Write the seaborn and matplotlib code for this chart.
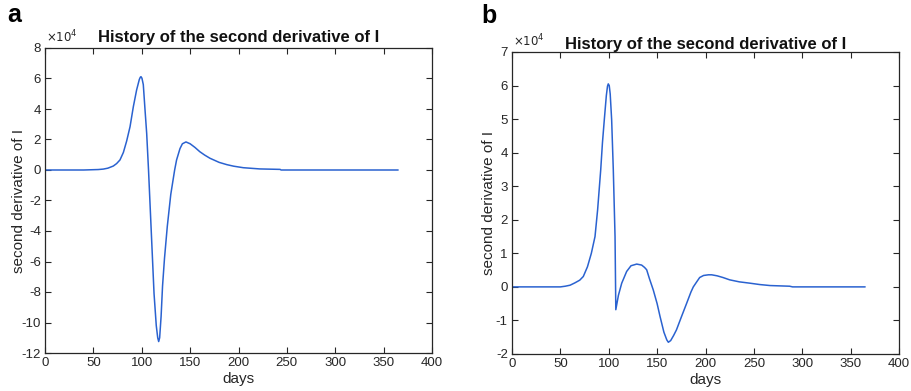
import matplotlib
matplotlib.use("Agg")
import matplotlib.pyplot as plt
import seaborn as sns
import pandas as pd

# Panel a: days and second derivative of I (units of 1e4)
days_a = [0, 20, 40, 50, 55, 60.3, 65, 70.6, 74, 77.5, 81, 84.4, 87.9, 91.3, 94.7, 97.5, 98.5, 99.2,
          100.2, 101.6, 103.4, 105.1, 107, 109.6, 112.7, 115, 116.5, 117.5, 118.5, 120, 121.5,
          123.5, 126.4, 130, 134, 136, 139.5, 142, 145.7, 150, 155, 160, 165, 170.5,
          180, 188, 195, 205, 222, 243, 244, 300, 365]
vals_a = [0, 0, 0.0, 0.02, 0.03, 0.06, 0.12, 0.26, 0.42, 0.66, 1.15, 1.9, 2.84, 4.15, 5.25, 5.94, 6.08, 6.12,
          6.02, 5.6, 3.93, 2.4, 0.0, -3.7, -8.1, -10.2, -11.0, -11.25, -11.0, -9.6, -7.6,
          -5.8, -3.7, -1.6, 0.0, 0.66, 1.4, 1.72, 1.84, 1.72, 1.48, 1.2, 0.98, 0.77,
          0.5, 0.35, 0.25, 0.15, 0.07, 0.04, 0.0, 0.0, 0.0]

# Panel b
days_b = [0, 30, 50, 55, 60, 65, 70, 73.7, 78, 82, 85.8, 88.5, 91.7, 93.5, 95.4, 97.5, 98.7, 99.5,
          100.5, 101.5, 103, 104.7, 106.5, 107.3, 110, 113.4, 118.5, 123, 128.9, 134, 137, 139.2,
          142, 146, 150, 153, 157, 160, 161.6, 164, 167, 170, 175, 180.5, 185, 187.4,
          190.9, 194, 198, 203, 206.4, 212, 218, 225, 235, 246, 256, 266.7, 287, 290, 365]
vals_b = [0, 0, 0, 0.02, 0.05, 0.12, 0.2, 0.31, 0.6, 1.0, 1.5, 2.3, 3.49, 4.3, 4.98, 5.7, 5.98, 6.05,
          6.0, 5.75, 4.98, 3.49, 1.5, -0.68, -0.25, 0.11, 0.46, 0.63, 0.68, 0.65, 0.58, 0.51,
          0.25, -0.09, -0.5, -0.88, -1.35, -1.58, -1.65, -1.6, -1.45, -1.28, -0.9, -0.49, -0.15, 0.0,
          0.15, 0.28, 0.34, 0.36, 0.36, 0.33, 0.28, 0.21, 0.15, 0.11, 0.07, 0.04, 0.02, 0.0, 0.0]

title = "History of the second derivative of I"
xlabel = "days"
ylabel = "second derivative of I"
xticks = [0, 50, 100, 150, 200, 250, 300, 350, 400]
yticks_a = [-12, -10, -8, -6, -4, -2, 0, 2, 4, 6, 8]
yticks_b = [-2, -1, 0, 1, 2, 3, 4, 5, 6, 7]

sns.set_theme(style="white")
plt.rcParams['font.family'] = ['Liberation Sans', 'DejaVu Sans']
plt.rcParams['axes.unicode_minus'] = False

W, H = 911, 391
fig = plt.figure(figsize=(W / 100, H / 100), dpi=100)
fig.patch.set_facecolor("white")

line_color = "#2a62d0"
edge = "#262626"

def make_panel(rect, days, vals, yticks, letter, letter_xy, title_pad, ylabelpad):
    ax = fig.add_axes(rect)
    df = pd.DataFrame({"days": days, "val": vals})
    sns.lineplot(data=df, x="days", y="val", ax=ax, color=line_color, linewidth=1.1,
                 estimator=None, sort=False)
    ax.set_xlim(0, 400)
    ax.set_ylim(yticks[0], yticks[-1])
    ax.set_xticks(xticks)
    ax.set_yticks(yticks)
    ax.set_xticklabels([str(t) for t in xticks])
    ax.set_yticklabels([str(t) for t in yticks])
    ax.tick_params(direction="in", length=4, width=0.8, top=True, right=True,
                   bottom=True, left=True, labelsize=9.5, colors=edge, pad=3)
    for s in ax.spines.values():
        s.set_color(edge)
        s.set_linewidth(0.9)
        s.set_visible(True)
    ax.set_xlabel(xlabel, fontsize=11, color=edge, labelpad=2)
    ax.set_ylabel(ylabel, fontsize=11, color=edge, labelpad=ylabelpad)
    ax.set_title(title, fontsize=12, fontweight="bold", color="#111111", pad=title_pad)
    ax.text(0.002, 1.008, r"$\times10^4$", transform=ax.transAxes, ha="left", va="bottom",
            fontsize=8.5, color=edge)
    ax.grid(False)
    fig.text(letter_xy[0] / W, 1 - letter_xy[1] / H, letter, fontsize=18, fontweight="bold",
             ha="center", va="center", color="black")
    return ax

make_panel([45 / W, 1 - 353 / H, 387 / W, 305 / H], days_a, vals_a, yticks_a, "a", (14, 15), 4, -3)
make_panel([512 / W, 1 - 354 / H, 387 / W, 302 / H], days_b, vals_b, yticks_b, "b", (489, 16), 2.5, 0)

fig.savefig("out.png", dpi=100)
